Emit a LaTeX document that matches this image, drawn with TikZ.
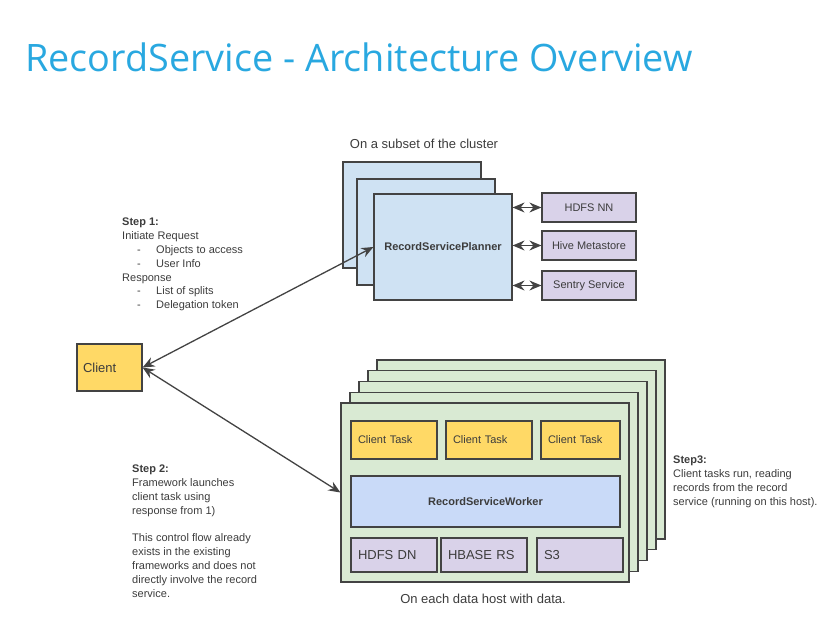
\documentclass[tikz,border=0pt]{standalone}
\usepackage{fontspec}
\setmainfont{Liberation Sans}
\newfontfamily\titlefont{Open Sans}
\usetikzlibrary{arrows.meta}
\definecolor{titleblue}{RGB}{41,168,224}
\definecolor{plannerblue}{RGB}{207,226,243}
\definecolor{workerblue}{RGB}{201,218,248}
\definecolor{servicepurple}{RGB}{217,210,233}
\definecolor{hostgreen}{RGB}{217,234,211}
\definecolor{taskyellow}{RGB}{255,217,102}
\definecolor{edgegray}{RGB}{67,67,67}
\definecolor{textgray}{RGB}{60,60,60}

\begin{document}
\begin{tikzpicture}[x=1pt,y=-1pt,
		box/.style={draw=edgegray,line width=1.2pt,inner sep=0pt,text=textgray,font=\fontsize{11}{13}\selectfont},
		plannerbox/.style={box,fill=plannerblue,minimum width=138pt,minimum height=106pt},
		hostbox/.style={box,fill=hostgreen,minimum width=288pt,minimum height=179pt},
		servicebox/.style={box,fill=servicepurple,minimum width=94pt,minimum height=29pt},
		taskbox/.style={box,fill=taskyellow,minimum height=38pt,inner xsep=7pt,align=left},
		storebox/.style={box,fill=servicepurple,minimum height=34pt,inner xsep=7pt,align=left,font=\fontsize{13}{15}\selectfont},
		note/.style={inner sep=0pt,text=textgray,align=left,font=\fontsize{11}{13.8}\selectfont},
		caption/.style={inner sep=0pt,text=textgray,font=\fontsize{13}{15}\selectfont},
		flow/.style={{Stealth[length=12pt,width=10pt,inset=4pt]}-{Stealth[length=12pt,width=10pt,inset=4pt]},line width=1.3pt,draw=edgegray}]
		\useasboundingbox (0,0) rectangle (838,620);
		\node[anchor=base west,inner sep=0pt,text=titleblue,font=\titlefont\fontsize{37.8}{42}\selectfont] (title) at (25,72) {RecordService - Architecture Overview};
		% planner side
		\node[caption,anchor=base] (subsetlabel) at (424,149) {On a subset of the cluster};
		\foreach \i/\px/\py in {3/412/215,2/426/232}
			\node[plannerbox] (planner\i) at (\px,\py) {};
		\node[plannerbox,font=\fontsize{11}{13}\selectfont\bfseries] (planner) at (443,247) {RecordServicePlanner};
		\node[servicebox] (hdfsnn) at (589,207.5) {HDFS NN};
		\node[servicebox] (hive) at (589,245.5) {Hive Metastore};
		\node[servicebox] (sentry) at (589,285.5) {Sentry Service};
		\draw[flow] (hdfsnn.west -| planner.east) -- (hdfsnn.west);
		\draw[flow] (hive.west -| planner.east) -- (hive.west);
		\draw[flow] (sentry.west -| planner.east) -- (sentry.west);
		% data hosts
		\foreach \i in {4,3,2,1}
			\node[hostbox] (host\i) at ({485+9*\i},{492.5-10.75*\i}) {};
		\node[hostbox] (host) at (485,492.5) {};
		\node[taskbox,text width=72pt] (task1) at (394,440) {Client Task};
		\node[taskbox,text width=72pt] (task2) at (489,440) {Client Task};
		\node[taskbox,text width=65pt] (task3) at (580.5,440) {Client Task};
		\node[box,fill=workerblue,minimum width=269pt,minimum height=51pt,font=\fontsize{11}{13}\selectfont\bfseries] (worker) at (485.5,501.5) {RecordServiceWorker};
		\node[storebox,text width=72pt] (hdfsdn) at (394,555) {HDFS DN};
		\node[storebox,text width=72pt] (hbase) at (484,555) {HBASE RS};
		\node[storebox,text width=72pt] (s3) at (580,555) {S3};
		\node[caption,anchor=base] (hostlabel) at (483,603) {On each data host with data.};
		% client
		\node[box,fill=taskyellow,minimum height=47pt,inner xsep=6pt,text width=53pt,align=left,font=\fontsize{13}{15}\selectfont] (client) at (109.5,367.5) {Client};
		\draw[flow] (client.east) -- (planner.west);
		\draw[flow] (client.east) -- (host.west);
		% steps
		\node[note,anchor=north west] (step1) at (122,218) {\textbf{Step 1:}\\
			Initiate Request\\
			\hspace*{15pt}\makebox[19pt][l]{-}Objects to access\\
			\hspace*{15pt}\makebox[19pt][l]{-}User Info\\
			Response\\
			\hspace*{15pt}\makebox[19pt][l]{-}List of splits\\
			\hspace*{15pt}\makebox[19pt][l]{-}Delegation token};
		\node[note,anchor=north west] (step2) at (132,465) {\textbf{Step 2:}\\
			Framework launches\\
			client task using\\
			response from 1)\\[13.8pt]
			This control flow already\\
			exists in the existing\\
			frameworks and does not\\
			directly involve the record\\
			service.};
		\node[note,anchor=north west] (step3) at (673,456) {\textbf{Step3:}\\
			Client tasks run, reading\\
			records from the record\\
			service (running on this host).};
	\end{tikzpicture}
\end{document}
